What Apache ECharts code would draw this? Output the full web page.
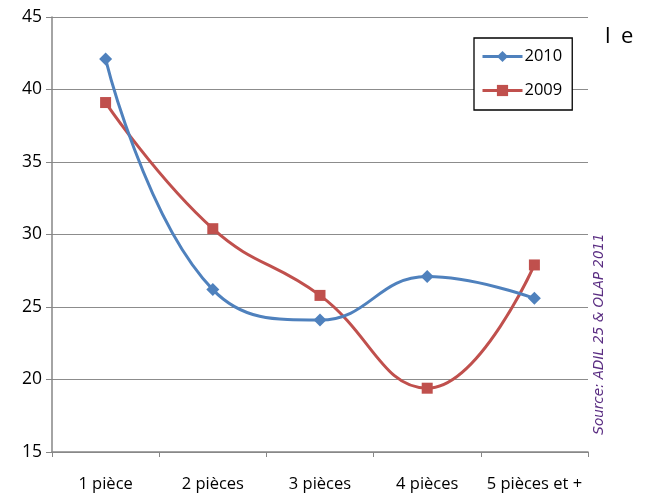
<!DOCTYPE html>
<html>
<head>
<meta charset="utf-8">
<script src="https://cdn.jsdelivr.net/npm/echarts@6/dist/echarts.min.js"></script>
<style>
  html, body { margin: 0; padding: 0; background: #fff; }
  #chart { width: 647px; height: 493px; }
</style>
</head>
<body>
<div id="chart"></div>
<script>
// Rooms per dwelling
const categories = ['1 pièce', '2 pièces', '3 pièces', '4 pièces', '5 pièces et +'];
const values2010 = [42.1, 26.2, 24.1, 27.1, 25.6];
const values2009 = [39.1, 30.4, 25.8, 19.4, 27.9];
const yTicks = { min: 15, max: 45, interval: 5 };

const chart = echarts.init(document.getElementById('chart'), null, { renderer: 'canvas' });

const font = '"Open Sans", "Liberation Sans", Arial, sans-serif';

chart.setOption({
  animation: false,
  backgroundColor: '#ffffff',
  grid: { left: 52, right: 59, top: 17, bottom: 41, containLabel: false },
  legend: {
    orient: 'vertical',
    left: 474,
    top: 38,
    width: 100,
    padding: [10, 10, 11, 7],
    itemGap: 17,
    itemWidth: 40,
    itemHeight: 14,
    borderColor: '#000',
    borderWidth: 1.3,
    backgroundColor: '#fff',
    textStyle: { fontFamily: font, fontSize: 16.5, color: '#000', padding: [0, 0, 0, -3] },
    lineStyle: { width: 3 },
    data: ['2010', '2009']
  },
  xAxis: {
    type: 'category',
    data: categories,
    boundaryGap: true,
    axisLine: { lineStyle: { color: '#868686', width: 1.5 } },
    axisTick: { show: true, interval: 0, length: 5, lineStyle: { color: '#868686' } },
    axisLabel: { interval: 0, hideOverlap: false, fontFamily: font, fontSize: 16.5, color: '#000', margin: 24 }
  },
  yAxis: {
    type: 'value',
    min: yTicks.min,
    max: yTicks.max,
    interval: yTicks.interval,
    axisLine: { show: true, lineStyle: { color: '#868686', width: 1.5 } },
    axisTick: { show: true, length: 6, lineStyle: { color: '#868686' } },
    axisLabel: { fontFamily: font, fontSize: 17.5, color: '#000', margin: 10 },
    splitLine: { lineStyle: { color: '#8c8c8c', width: 1 } }
  },
  series: [
    {
      name: '2010',
      type: 'line',
      data: values2010,
      smooth: 0.45,
      symbol: 'diamond',
      symbolSize: 13,
      lineStyle: { color: '#4F81BD', width: 3 },
      itemStyle: { color: '#4F81BD' },
      z: 3
    },
    {
      name: '2009',
      type: 'line',
      data: values2009,
      smooth: 0.45,
      symbol: 'rect',
      symbolSize: 11,
      lineStyle: { color: '#C0504D', width: 3 },
      itemStyle: { color: '#C0504D' },
      z: 2
    }
  ],
  graphic: [
    // stray caption letters, spaced apart
    {
      type: 'text',
      left: 605,
      top: 26,
      style: { text: 'l', font: '22px ' + font, fill: '#000' }
    },
    {
      type: 'text',
      left: 621,
      top: 26,
      style: { text: 'e', font: '22px ' + font, fill: '#000' }
    },
    {
      type: 'text',
      x: 599,
      y: 334,
      rotation: Math.PI / 2,
      style: {
        text: 'Source: ADIL 25 & OLAP 2011',
        font: 'italic 13.5px Verdana, "DejaVu Sans", sans-serif',
        fill: '#5A2D82',
        align: 'center',
        verticalAlign: 'middle'
      }
    }
  ]
});
</script>
</body>
</html>
